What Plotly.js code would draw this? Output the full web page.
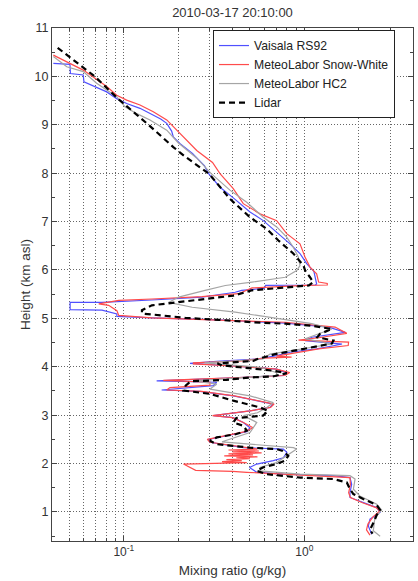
<!DOCTYPE html>
<html>
<head>
<meta charset="utf-8">
<script src="https://cdn.plot.ly/plotly-3.0.1.min.js"></script>
<style>html,body{margin:0;padding:0;background:#fff;}#chart{width:418px;height:581px;}</style>
</head>
<body>
<div id="chart"></div>
<script>
// Heights (km asl) and mixing ratios (g/kg)
const rs92H  = [10.27,10.25,10.06,10.03,9.89,9.79,9.68,9.54,9.44,9.34,9.20,9.12,9.03,8.87,8.75,8.61,8.41,8.27,8.15,7.99,7.78,7.71,7.49,7.20,7.02,6.78,6.54,6.34,6.13,5.97,5.71,5.69,5.68,5.62,5.58,5.54,5.44,5.38,5.33,5.33,5.18,5.17,5.09,5.04,5.01,4.97,4.90,4.82,4.75,4.71,4.61,4.54,4.47,4.46,4.37,4.30,4.23,4.16,4.11,4.07,4.02,3.95,3.88,3.82,3.77,3.71,3.68,3.61,3.52,3.49,3.40,3.30,3.23,3.16,3.09,2.99,2.95,2.85,2.74,2.66,2.57,2.50,2.44,2.33,2.30,2.23,2.12,2.06,1.99,1.92,1.82,1.78,1.75,1.71,1.57,1.40,1.30,1.19,1.09,0.99,0.85,0.71,0.54];
const rs92MR = [0.0407,0.0503,0.0506,0.0596,0.0601,0.0692,0.0804,0.0913,0.1037,0.1229,0.1456,0.160,0.1729,0.184,0.188,0.205,0.240,0.260,0.280,0.295,0.327,0.341,0.404,0.500,0.5925,0.703,0.833,0.946,1.03,1.13,1.17,1.15,0.61,0.60,0.45,0.414,0.271,0.143,0.0757,0.0504,0.0504,0.0757,0.0915,0.0915,0.143,0.335,0.784,1.365,1.55,1.687,1.10,1.01,1.617,1.5765,1.1707,0.833,0.703,0.545,0.327,0.2325,0.404,0.703,0.80,0.765,0.404,0.152,0.327,0.313,0.162,0.264,0.404,0.545,0.673,0.645,0.50,0.313,0.404,0.459,0.50,0.48,0.37,0.294,0.30,0.459,0.765,0.80,0.765,0.673,0.545,0.497,0.545,0.765,1.447,1.79,1.83,1.79,1.79,2.12,2.517,2.626,2.311,2.262,2.362];

const swH  = [10.44,10.27,10.13,9.96,9.79,9.61,9.51,9.41,9.27,9.10,8.89,8.68,8.47,8.22,7.99,7.68,7.37,7.16,7.02,6.75,6.54,6.27,6.06,5.92,5.75,5.72,5.69,5.68,5.63,5.51,5.45,5.40,5.37,5.30,5.27,5.16,5.06,5.01,4.97,4.92,4.82,4.69,4.60,4.55,4.51,4.44,4.37,4.22,4.20,4.18,4.12,4.08,4.06,4.02,3.95,3.88,3.82,3.77,3.72,3.68,3.62,3.57,3.52,3.49,3.40,3.30,3.23,3.16,3.09,2.99,2.95,2.85,2.74,2.66,2.57,2.50,2.44,2.36,2.30,2.28,2.26,2.24,2.22,2.20,2.18,2.16,2.14,2.12,2.10,2.08,2.06,2.04,2.02,1.99,1.93,1.86,1.84,1.82,1.71,1.57,1.40,1.30,1.19,1.09,1.02,0.90,0.75,0.63,0.52];
const swMR = [0.0407,0.0503,0.0596,0.0692,0.0804,0.0913,0.1037,0.1229,0.1456,0.1729,0.1963,0.2231,0.2534,0.310,0.341,0.404,0.459,0.568,0.703,0.7986,0.946,1.0085,1.075,1.17,1.20,1.34,1.34,1.01,0.513,0.433,0.271,0.143,0.0937,0.0726,0.0824,0.0915,0.0937,0.143,0.335,0.784,1.48,1.72,1.20,0.929,1.759,1.75,1.20,0.70,0.85,0.60,0.45,0.243,0.243,0.40,0.70,0.83,0.78,0.40,0.1655,0.30,0.30,0.18,0.1729,0.27,0.41,0.55,0.68,0.65,0.50,0.31,0.40,0.46,0.52,0.47,0.36,0.29,0.30,0.42,0.55,0.38,0.56,0.40,0.58,0.38,0.52,0.36,0.55,0.42,0.50,0.37,0.45,0.35,0.48,0.214,0.23,0.25,0.40,0.48,1.79,1.80,1.76,1.80,2.10,2.50,2.62,2.40,2.25,2.21,2.31];

const hc2H  = [10.41,10.20,10.10,9.86,9.58,9.37,9.23,9.10,8.89,8.63,8.32,7.99,7.65,7.40,7.09,6.89,6.68,6.47,6.27,6.09,5.99,5.85,5.75,5.68,5.58,5.44,5.33,5.23,5.13,4.99,4.89,4.78,4.68,4.58,4.47,4.33,4.26,4.16,4.08,3.99,3.88,3.82,3.75,3.71,3.64,3.54,3.40,3.26,3.16,3.05,2.99,2.85,2.64,2.50,2.45,2.40,2.33,2.30,2.16,2.02,1.92,1.85,1.78,1.75,1.68,1.47,1.33,1.16,1.04,0.88,0.61,0.50];
const hc2MR = [0.0407,0.0483,0.0596,0.0707,0.0913,0.1015,0.1179,0.1396,0.1729,0.200,0.252,0.305,0.387,0.4795,0.5925,0.703,0.7986,0.8687,0.926,0.946,0.907,0.784,0.513,0.365,0.282,0.201,0.177,0.239,0.414,0.718,1.10,1.42,1.20,1.01,1.42,0.854,0.645,0.59,0.28,0.568,0.703,0.703,0.327,0.243,0.327,0.30,0.50,0.673,0.62,0.55,0.46,0.545,0.50,0.39,0.35,0.50,0.87,0.907,0.80,0.70,0.568,0.568,0.946,1.79,1.91,1.87,2.03,2.52,2.68,2.46,2.41,2.63];

const lidarH  = [10.59,10.00,9.52,9.00,8.54,8.34,7.98,7.47,7.09,6.85,6.61,6.34,6.09,5.99,5.85,5.75,5.68,5.64,5.58,5.47,5.40,5.33,5.27,5.17,5.10,5.06,5.01,4.97,4.92,4.89,4.85,4.78,4.68,4.61,4.54,4.48,4.26,4.16,4.12,4.07,4.03,3.99,3.92,3.87,3.85,3.80,3.78,3.73,3.70,3.61,3.51,3.44,3.30,3.16,3.09,2.99,2.94,2.85,2.78,2.68,2.61,2.54,2.47,2.40,2.33,2.30,2.26,2.16,2.06,1.99,1.92,1.85,1.78,1.71,1.68,1.61,1.47,1.37,1.27,1.14,1.04,0.94,0.77,0.63,0.55];
const lidarMR = [0.043,0.069,0.094,0.137,0.188,0.219,0.298,0.387,0.50,0.618,0.718,0.869,0.99,1.01,1.075,1.12,1.06,0.78,0.513,0.404,0.282,0.201,0.143,0.126,0.126,0.163,0.219,0.335,0.513,0.784,1.10,1.42,1.22,1.18,1.45,1.42,0.69,0.55,0.52,0.33,0.35,0.44,0.67,0.80,0.76,0.67,0.50,0.37,0.235,0.22,0.214,0.30,0.404,0.568,0.63,0.59,0.42,0.404,0.459,0.48,0.42,0.327,0.30,0.327,0.50,0.70,0.76,0.815,0.78,0.70,0.59,0.545,0.62,0.95,1.45,1.72,1.79,1.87,2.12,2.52,2.63,2.52,2.41,2.31,2.39];

const seriesNames = ['Vaisala RS92','MeteoLabor Snow-White','MeteoLabor HC2','Lidar'];
const titleText = '2010-03-17 20:10:00';
const xTitle = 'Mixing ratio (g/kg)';
const yTitle = 'Height (km asl)';
const xMajorTicks = [0.1, 1];
const xMajorLabels = ['10<sup>-1</sup>', '10<sup>0</sup>'];
const xMinorTicks = [0.05,0.06,0.07,0.08,0.09,0.2,0.3,0.4,0.5,0.6,0.7,0.8,0.9,2,3];
const yMajorTicks = [1,2,3,4,5,6,7,8,9,10,11];
const yMinorTicks = [0.5,1.5,2.5,3.5,4.5,5.5,6.5,7.5,8.5,9.5,10.5];

const FONT = 'Liberation Sans, Arial, Helvetica, sans-serif';
const traces = [
  {x: rs92MR, y: rs92H, name: seriesNames[0], mode: 'lines', line: {color: 'rgb(80,80,255)', width: 1.2}},
  {x: swMR, y: swH, name: seriesNames[1], mode: 'lines', line: {color: 'rgb(255,75,75)', width: 1.2}},
  {x: hc2MR, y: hc2H, name: seriesNames[2], mode: 'lines', line: {color: 'rgb(165,165,165)', width: 1.2}},
  {x: lidarMR, y: lidarH, name: seriesNames[3], mode: 'lines', line: {color: '#000', width: 2.2, dash: '6px,4px'}}
];
const gridCol = '#666';
const gridDash = '1px,2px';
const layout = {
  width: 418, height: 581,
  margin: {l: 52, r: 5, t: 28, b: 40},
  paper_bgcolor: '#fff', plot_bgcolor: '#fff',
  font: {family: FONT, size: 12, color: '#333'},
  title: {text: titleText, font: {family: FONT, size: 13, color: '#333'}, x: 0.5, xanchor: 'center', xref: 'paper', y: 1 - 12/581, yref: 'container', yanchor: 'middle'},
  showlegend: true,
  legend: {x: 0.446, y: 0.996, xanchor: 'left', yanchor: 'top', bordercolor: '#222', borderwidth: 1, bgcolor: '#fff', font: {family: FONT, size: 12.2, color: '#222'}, tracegroupgap: 0, itemwidth: 30},
  xaxis: {
    type: 'log', range: [Math.log10(0.04), Math.log10(4)],
    tickmode: 'array', tickvals: xMajorTicks, ticktext: xMajorLabels,
    ticks: 'inside', ticklen: 5, tickcolor: '#444',
    showline: true, linecolor: '#444', linewidth: 1, mirror: 'ticks',
    showgrid: true, gridcolor: gridCol, griddash: gridDash, gridwidth: 1,
    minor: {tickmode: 'array', tickvals: xMinorTicks, ticks: 'inside', ticklen: 3, tickcolor: '#444', showgrid: true, gridcolor: gridCol, griddash: gridDash, gridwidth: 1},
    zeroline: false, tickfont: {family: FONT, size: 12, color: '#333'},
    title: {text: xTitle, font: {family: FONT, size: 13.5, color: '#333'}, standoff: 7}
  },
  yaxis: {
    range: [0.4, 11],
    tickmode: 'array', tickvals: yMajorTicks,
    ticks: 'inside', ticklen: 5, tickcolor: '#444',
    showline: true, linecolor: '#444', linewidth: 1, mirror: 'ticks',
    showgrid: true, gridcolor: gridCol, griddash: gridDash, gridwidth: 1,
    minor: {tickmode: 'array', tickvals: yMinorTicks, ticks: 'inside', ticklen: 3, tickcolor: '#444', showgrid: false},
    zeroline: false, tickfont: {family: FONT, size: 12.5, color: '#333'},
    title: {text: yTitle, font: {family: FONT, size: 13.5, color: '#333'}, standoff: 0}
  }
};
Plotly.newPlot('chart', traces, layout, {displayModeBar: false, staticPlot: true});
</script>
</body>
</html>
